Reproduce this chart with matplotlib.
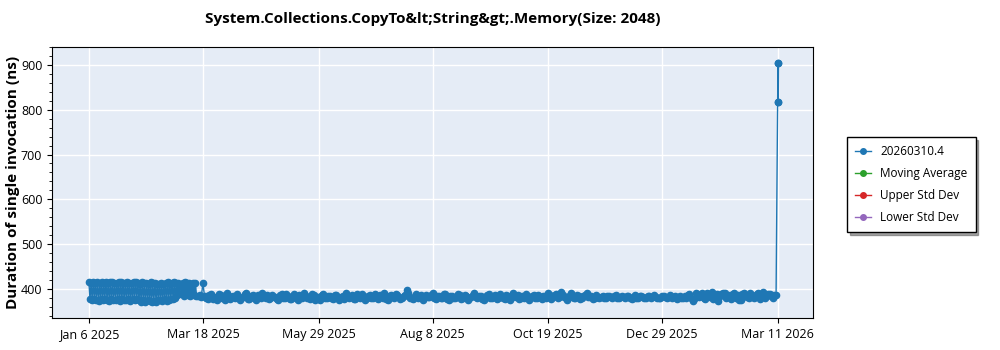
import pandas as pd
import matplotlib
matplotlib.use("Agg")
import matplotlib.pyplot as plt
from matplotlib.ticker import MultipleLocator

plt.rcParams["font.family"] = ["Open Sans", "DejaVu Sans"]

TITLE = "System.Collections.CopyTo&lt;String&gt;.Memory(Size: 2048)"
YLABEL = "Duration of single invocation (ns)"
SERIES_NAME = "20260310.4"

# early runs Jan 6 - Mar 14 2025, flip-flopping between two levels
early_start, early_end = "2025-01-06", "2025-03-14"
early_high = [
    415, 414, 416, 413, 415, 414, 416, 413, 415, 414,
    416, 415, 413, 414, 415, 416, 414, 413, 415, 414,
    413, 415, 416, 414, 412, 415, 413, 414, 412, 415,
    413, 414, 412, 411, 413, 412, 414, 416, 412, 413,
    415, 414, 413, 412, 414, 415, 413, 414, 412, 413, 414,
]
early_low = [
    377, 375, 378, 376, 374, 377, 375, 378, 376, 373,
    377, 375, 376, 378, 374, 377, 376, 375, 378, 374,
    377, 376, 378, 375, 372, 376, 371, 375, 373, 370,
    374, 372, 376, 375, 373, 377, 374, 376, 378, 377,
    379, 386, 388, 391, 384, 389, 386, 385, 390, 387, 385,
]

bridge_dates = ["2025-03-15", "2025-03-16", "2025-03-17", "2025-03-18"]
bridge_vals = [384, 387, 383, 413]

# rest of the year, daily from Mar 19 2025 (even days in a, odd days in b)
late_start_a = "2025-03-19"
late_a = [
    384, 377, 389, 381, 375, 387, 379, 391, 377, 384,
    388, 376, 383, 390, 378, 386, 375, 385, 392, 379,
    377, 387, 382, 376, 389, 380, 385, 378, 388, 375,
    384, 390, 379, 377, 386, 382, 375, 388, 380, 385,
    378, 387, 376, 384, 390, 379, 386, 377, 383, 389,
    375, 385, 380, 388, 378, 384, 391, 376, 386, 379,
    387, 377, 385, 397, 380, 378, 389, 383, 376, 387,
    382, 390, 377, 385, 379, 388, 375, 384, 380, 389,
    378, 386, 376, 383, 390, 379, 385, 375, 387, 380,
    384, 377, 388, 379, 386, 376, 391, 382, 378, 385,
    389, 375, 384, 380, 387, 378, 385, 392, 377, 386,
    379, 393, 383, 376, 390, 380, 387, 377, 385, 391,
    382, 378, 386, 380, 385, 379, 384, 381, 386, 379,
    385, 380, 384, 378, 386, 381, 385, 379, 384, 380,
    386, 381, 379, 385, 380, 387, 383, 378, 385, 381,
    380, 388, 373, 390, 383, 392, 377, 387, 393, 379,
    374, 389, 391, 384, 378, 392, 386, 376, 390, 383,
    391, 380, 388, 378, 393, 384, 389, 381, 387,
]
late_start_b = "2025-03-20"
late_b = [
    381, 386, 378, 383, 389, 380, 376, 385, 382, 379,
    385, 380, 388, 377, 384, 381, 387, 379, 383, 386,
    380, 383, 378, 386, 381, 389, 377, 384, 380, 387,
    379, 385, 382, 388, 376, 383, 387, 379, 384, 381,
    386, 380, 383, 378, 385, 382, 377, 388, 381, 384,
    380, 387, 379, 383, 386, 381, 378, 385, 382, 389,
    383, 380, 386, 392, 379, 384, 381, 387, 380, 383,
    386, 379, 384, 381, 388, 377, 385, 380, 383, 386,
    381, 384, 379, 387, 382, 385, 378, 383, 389, 380,
    386, 381, 383, 378, 385, 380, 384, 387, 381, 379,
    384, 381, 387, 379, 383, 385, 380, 386, 382, 388,
    383, 387, 380, 385, 382, 379, 384, 381, 387, 383,
    384, 381, 383, 382, 380, 384, 382, 385, 381, 383,
    382, 384, 381, 383, 380, 384, 382, 381, 385, 382,
    383, 380, 384, 382, 383, 381, 385, 382, 380, 384,
    386, 381, 377, 389, 385, 380, 390, 383, 378, 388,
    384, 391, 379, 386, 388, 381, 376, 389, 384, 380,
    387, 383, 390, 385, 381, 389, 384, 386,
]

spike_dates = ["2026-03-11 00:00", "2026-03-11 04:00", "2026-03-11 08:00", "2026-03-11 12:00"]
spike_vals = [818, 905, 818, 905]

# the other series are empty in this chart
moving_avg = []
upper_std = []
lower_std = []

tick_dates = ["2025-01-06", "2025-03-18", "2025-05-29", "2025-08-08",
              "2025-10-19", "2025-12-29", "2026-03-11"]

early_vals = []
for hi, lo in zip(early_high, early_low):
    early_vals += [hi, lo]
early_ser = pd.Series(early_vals, index=pd.date_range(early_start, early_end, periods=len(early_vals)))
bridge_ser = pd.Series(bridge_vals, index=pd.to_datetime(bridge_dates))
late_ser = pd.concat([
    pd.Series(late_a, index=pd.date_range(late_start_a, periods=len(late_a), freq="2D")),
    pd.Series(late_b, index=pd.date_range(late_start_b, periods=len(late_b), freq="2D")),
]).sort_index()
spike_ser = pd.Series(spike_vals, index=pd.to_datetime(spike_dates))
runs = pd.concat([early_ser, bridge_ser, late_ser, spike_ser])

fig = plt.figure(figsize=(10, 3.5), dpi=100)
ax = fig.add_axes([0.052, 0.091, 0.761, 0.775])
ax.set_facecolor("#E5ECF6")

ax.plot(runs.index, runs.values, color="#1f77b4", marker="o", markersize=4.5, linewidth=1, label=SERIES_NAME)
ax.plot(moving_avg, moving_avg, color="#2ca02c", marker="o", markersize=4, linewidth=1, label="Moving Average")
ax.plot(upper_std, upper_std, color="#d62728", marker="o", markersize=4, linewidth=1, label="Upper Std Dev")
ax.plot(lower_std, lower_std, color="#9467bd", marker="o", markersize=4, linewidth=1, label="Lower Std Dev")

ticks = pd.to_datetime(tick_dates)
ax.set_xticks(ticks)
ax.set_xticklabels([f"{d:%b} {d.day} {d.year}" for d in ticks], fontsize=9)
ax.set_xlim(pd.Timestamp("2024-12-14"), pd.Timestamp("2026-04-02"))

ax.set_ylim(335, 940)
ax.yaxis.set_major_locator(MultipleLocator(100))
ax.yaxis.set_minor_locator(MultipleLocator(20))
ax.tick_params(axis="y", labelsize=9)
ax.tick_params(axis="x", which="minor", bottom=False)

ax.grid(True, color="white", linewidth=1)
ax.set_axisbelow(True)
for s in ax.spines.values():
    s.set_color("black")

ax.set_ylabel(YLABEL, fontsize=11, fontweight="bold")
ax.yaxis.set_label_coords(-0.042, 0.5)
ax.set_title(TITLE, fontsize=11, fontweight="bold", pad=17)

leg = ax.legend(loc="upper left", bbox_to_anchor=(0.847, 0.609), bbox_transform=fig.transFigure,
                borderaxespad=0, fancybox=False, shadow=True, edgecolor="black", fontsize=8.5,
                handlelength=1.3, labelspacing=0.75, borderpad=0.7, framealpha=1)
leg.get_frame().set_linewidth(1)
for h in leg.get_lines():
    h.set_markersize(4)

fig.savefig("out.png", dpi=100)
